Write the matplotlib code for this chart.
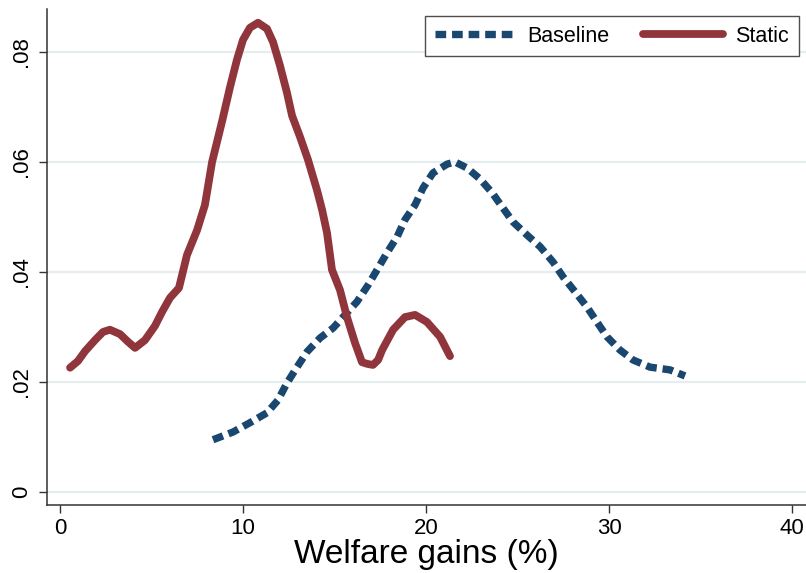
import matplotlib
matplotlib.use("Agg")
import matplotlib.pyplot as plt
from matplotlib.ticker import FixedLocator, FixedFormatter

# ---- data ----
static_x = [0.55, 0.98, 1.37, 1.91, 2.35, 2.73, 3.28, 3.72, 4.10, 4.64, 5.19, 5.57,
            6.01, 6.50, 6.94, 7.49, 7.92, 8.31, 8.85, 9.29, 9.67, 10.00, 10.38, 10.82,
            11.31, 11.64, 12.02, 12.40, 12.68, 13.11, 13.55, 14.04, 14.32, 14.59, 14.86,
            15.30, 15.68, 16.12, 16.50, 16.78, 17.10, 17.38, 17.60, 18.20, 18.85, 19.40,
            20.05, 20.77, 21.31]
static_y = [0.0226, 0.0238, 0.0256, 0.0276, 0.0291, 0.0295, 0.0287, 0.0273, 0.0262,
            0.0276, 0.0302, 0.0327, 0.0353, 0.0371, 0.0431, 0.0476, 0.0522, 0.0600,
            0.0673, 0.0736, 0.0786, 0.0822, 0.0844, 0.0853, 0.0842, 0.0818, 0.0775,
            0.0726, 0.0684, 0.0646, 0.0604, 0.0549, 0.0513, 0.0471, 0.0404, 0.0367,
            0.0318, 0.0271, 0.0236, 0.0233, 0.0231, 0.0240, 0.0258, 0.0295, 0.0318,
            0.0322, 0.0309, 0.0282, 0.0247]

base_x = [8.36, 9.45, 10.38, 11.31, 11.91, 12.40, 12.95, 13.50, 14.21, 14.92, 15.68,
          16.23, 16.83, 17.38, 17.87, 18.42, 18.85, 19.40, 19.84, 20.38, 21.15, 21.58,
          22.24, 22.95, 23.61, 24.21, 24.75, 25.52, 26.23, 26.94, 27.49, 28.14, 28.80,
          29.34, 29.89, 30.60, 31.31, 32.24, 33.33, 34.15]
base_y = [0.0095, 0.0109, 0.0126, 0.0144, 0.0167, 0.0198, 0.0227, 0.0255, 0.0280,
          0.0298, 0.0326, 0.0346, 0.0376, 0.0407, 0.0435, 0.0464, 0.0495, 0.0522,
          0.0553, 0.0580, 0.0596, 0.0600, 0.0589, 0.0569, 0.0544, 0.0516, 0.0491,
          0.0467, 0.0446, 0.0418, 0.0391, 0.0364, 0.0336, 0.0309, 0.0282, 0.0258,
          0.0240, 0.0227, 0.0222, 0.0211]

x_ticks = [0, 10, 20, 30, 40]
y_ticks = [0, 0.02, 0.04, 0.06, 0.08]
y_tick_labels = ["0", ".02", ".04", ".06", ".08"]
series_names = ["Baseline", "Static"]
x_title = "Welfare gains (%)"

# ---- style ----
RED = "#90353b"
BLUE = "#1a476f"
GRID = "#e6edf1"

plt.rcParams["font.family"] = ["Liberation Sans", "DejaVu Sans"]

fig = plt.figure(figsize=(8.06, 5.73), dpi=100)
ax = fig.add_axes([47 / 806, 68 / 573, 759 / 806, 496 / 573])

ax.set_xlim(-0.71, 40.76)
ax.set_ylim(-0.00236, 0.0878)

for yv in y_ticks:
    ax.axhline(yv, color=GRID, lw=1.6, zorder=0)

ax.plot(base_x, base_y, color=BLUE, lw=5.3, linestyle=(0, (1.45, 0.8)),
        dash_capstyle="butt", label=series_names[0], zorder=2)
ax.plot(static_x, static_y, color=RED, lw=5.6, solid_capstyle="round",
        solid_joinstyle="round", label=series_names[1], zorder=3)

ax.xaxis.set_major_locator(FixedLocator(x_ticks))
ax.yaxis.set_major_locator(FixedLocator(y_ticks))
ax.yaxis.set_major_formatter(FixedFormatter(y_tick_labels))

for s in ["top", "right"]:
    ax.spines[s].set_visible(False)
for s in ["left", "bottom"]:
    ax.spines[s].set_color("#333333")
    ax.spines[s].set_linewidth(1.1)

ax.tick_params(axis="both", direction="out", length=5.5, width=1.0, color="#333333",
               labelsize=16, labelcolor="black")
ax.tick_params(axis="x", pad=4)
ax.tick_params(axis="y", pad=5)
for lab in ax.get_yticklabels():
    lab.set_rotation(90)
    lab.set_va("center")

ax.set_xlabel(x_title, fontsize=24, labelpad=0)

leg = ax.legend(ncol=2, loc="upper right",
                bbox_to_anchor=((799 - 47) / 759, (505 - 16) / 496),
                borderaxespad=0, fontsize=15.5, frameon=True, fancybox=False,
                handlelength=3.7, handletextpad=0.6, columnspacing=1.55,
                borderpad=0.45)
leg.get_frame().set_edgecolor("#222222")
leg.get_frame().set_linewidth(1.0)

fig.savefig("out.png", dpi=100)
